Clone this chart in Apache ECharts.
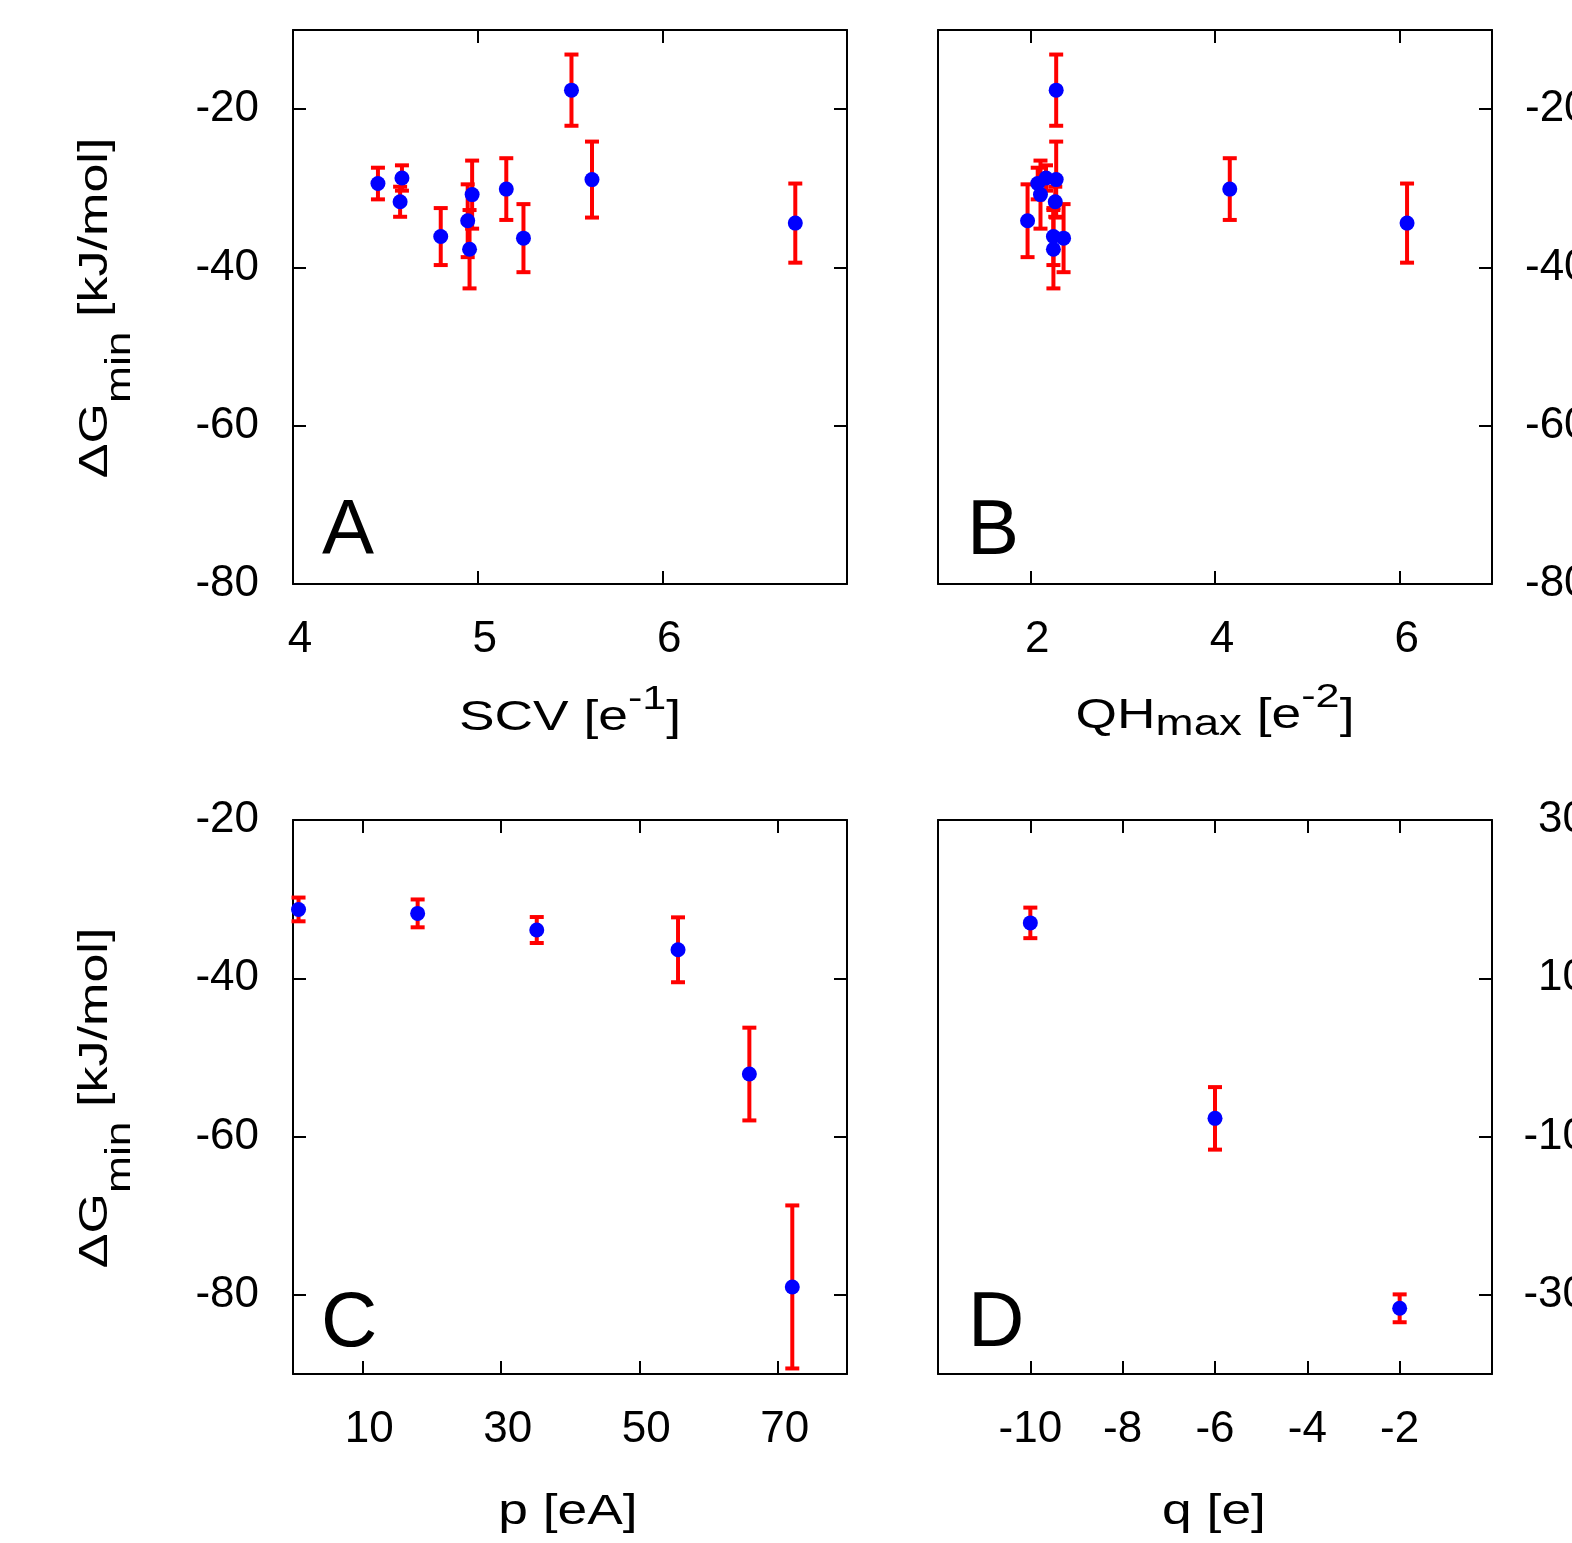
<!DOCTYPE html>
<html>
<head>
<meta charset="utf-8">
<script src="https://cdn.jsdelivr.net/npm/echarts@6/dist/echarts.min.js"></script>
<style>
html,body{margin:0;padding:0;background:#ffffff;}
#chart{width:1572px;height:1543px;}
</style>
</head>
<body>
<div id="chart"></div>
<script>
// ---------- data ----------
// Panels A & B: same 12 compounds, dG_min vs SCV and vs QH_max
const scv      = [4.46, 4.59, 4.58, 4.80, 4.946, 4.956, 4.97, 5.155, 5.248, 5.508, 5.619, 6.72];
const qhMax    = [2.08, 2.17, 2.27, 2.25, 1.97, 2.25, 2.11, 4.16, 2.36, 2.28, 2.28, 6.08];
const dGmin    = [-29.4, -28.7, -31.7, -36.1, -34.1, -37.7, -30.8, -30.1, -36.3, -17.6, -28.9, -34.4];
const dGminErr = [2.0, 1.6, 1.9, 3.6, 4.6, 4.95, 4.3, 3.9, 4.3, 4.5, 4.8, 5.0];
// Panel C: dG_min vs p
const pVals  = [0.8, 18.0, 35.2, 55.6, 65.9, 72.1];
const pDG    = [-31.3, -31.8, -33.9, -36.4, -52.1, -79.0];
const pErr   = [1.5, 1.76, 1.64, 4.1, 5.86, 10.3];
// Panel D: values vs q (right-hand axis)
const qVals  = [-10, -6, -2];
const qY     = [17.0, -7.7, -31.7];
const qErr   = [1.93, 3.95, 1.76];

// tick labels
const ticksScv   = [4, 5, 6];
const ticksQh    = [2, 4, 6];
const ticksP     = [10, 30, 50, 70];
const ticksQ     = [-10, -8, -6, -4, -2];
const ticksDG    = [-80, -60, -40, -20];
const ticksRight = [-30, -10, 10, 30];

// axis titles
const titleA = '{a|SCV [e}{sup|-1}{a|]}';
const titleB = '{a|QH}{sub|max}{a| [e}{sup|-2}{a|]}';
const titleC = '{a|p [eA]}';
const titleD = '{a|q [e]}';
const titleY = '{a|ΔG}{sub|min}{a| [kJ/mol]}';

// ---------- helpers ----------
const FONT = '"Liberation Sans", Arial, Helvetica, sans-serif';
const G = [
  {left: 293, top: 30,  width: 554, height: 554},
  {left: 938, top: 30,  width: 554, height: 554},
  {left: 293, top: 820, width: 554, height: 554},
  {left: 938, top: 820, width: 554, height: 554}
];
const LINE = {color: '#000', width: 2};
const TICK = {color: '#000', width: 2};
const TICKFS = 44;

function xAxisPair(gi, min, max, ticks, shift) {
  const bottom = {
    type: 'value', gridIndex: gi, position: 'bottom', min: min, max: max,
    axisLine: {show: true, onZero: false, lineStyle: LINE},
    axisTick: {show: true, inside: true, length: 13, lineStyle: TICK, customValues: ticks},
    axisLabel: {show: true, customValues: ticks, margin: 34, color: '#000', fontSize: TICKFS, fontFamily: FONT,
                padding: [0, 0, 0, shift]},
    splitLine: {show: false}
  };
  const top = {
    type: 'value', gridIndex: gi, position: 'top', min: min, max: max,
    axisLine: {show: true, onZero: false, lineStyle: LINE},
    axisTick: {show: true, inside: true, length: 13, lineStyle: TICK, customValues: ticks},
    axisLabel: {show: false},
    splitLine: {show: false}
  };
  return [bottom, top];
}

function yAxisPair(gi, lmin, lmax, lticks, leftShow, rmin, rmax, rticks, rightLabels, rAlign, rMargin) {
  const left = {
    type: 'value', gridIndex: gi, position: 'left', min: lmin, max: lmax,
    axisLine: {show: true, onZero: false, lineStyle: LINE},
    axisTick: {show: leftShow, inside: true, length: 13, lineStyle: TICK, customValues: lticks},
    axisLabel: {show: leftShow, customValues: lticks, margin: 34, color: '#000', fontSize: TICKFS, fontFamily: FONT},
    splitLine: {show: false}
  };
  const right = {
    type: 'value', gridIndex: gi, position: 'right', min: rmin, max: rmax,
    axisLine: {show: true, onZero: false, lineStyle: LINE},
    axisTick: {show: true, inside: true, length: 13, lineStyle: TICK, customValues: rticks},
    axisLabel: {show: rightLabels, customValues: rticks, margin: rMargin, align: rAlign,
                color: '#000', fontSize: TICKFS, fontFamily: FONT},
    splitLine: {show: false}
  };
  return [left, right];
}

function errRender(params, api) {
  const x = api.value(0), y = api.value(1), e = api.value(2);
  const p1 = api.coord([x, y + e]);
  const p2 = api.coord([x, y - e]);
  const hw = 7;
  const st = {stroke: '#ff0000', lineWidth: 4};
  return {
    type: 'group',
    children: [
      {type: 'line', shape: {x1: p1[0], y1: p1[1], x2: p2[0], y2: p2[1]}, style: st},
      {type: 'line', shape: {x1: p1[0] - hw, y1: p1[1], x2: p1[0] + hw, y2: p1[1]}, style: st},
      {type: 'line', shape: {x1: p2[0] - hw, y1: p2[1], x2: p2[0] + hw, y2: p2[1]}, style: st}
    ]
  };
}

function panelSeries(xs, ys, es, xi, yi) {
  const errData = xs.map((x, i) => [x, ys[i], es[i]]);
  const ptData = xs.map((x, i) => [x, ys[i]]);
  return [
    {type: 'custom', xAxisIndex: xi, yAxisIndex: yi, renderItem: errRender,
     encode: {x: 0, y: 1}, data: errData, z: 2, silent: true, clip: false},
    {type: 'scatter', xAxisIndex: xi, yAxisIndex: yi, data: ptData, symbol: 'circle',
     symbolSize: 15, itemStyle: {color: '#0000ff', opacity: 1}, z: 3, silent: true}
  ];
}

const xAxes = [].concat(
  xAxisPair(0, 4, 7, ticksScv, 14),
  xAxisPair(1, 1, 7, ticksQh, 14),
  xAxisPair(2, 0, 80, ticksP, 14),
  xAxisPair(3, -12, 0, ticksQ, 0)
);
const yAxes = [].concat(
  yAxisPair(0, -80, -10, ticksDG, true,  -80, -10, ticksDG, false, 'left', 34),
  yAxisPair(1, -80, -10, ticksDG, false, -80, -10, ticksDG, true,  'left', 33),
  yAxisPair(2, -90, -20, ticksDG, true,  -90, -20, ticksDG, false, 'left', 34),
  yAxisPair(3, -90, -20, ticksDG, false, -40, 30, ticksRight, true, 'right', 95)
);

const series = [].concat(
  panelSeries(scv, dGmin, dGminErr, 0, 0),
  panelSeries(qhMax, dGmin, dGminErr, 2, 3),
  panelSeries(pVals, pDG, pErr, 4, 4),
  panelSeries(qVals, qY, qErr, 6, 7)
);

// rich styles: all tokens share one lineHeight; padding shifts sub/sup
function tok(fs, pt, pb) {
  return {fontSize: fs, fontFamily: FONT, lineHeight: 42, verticalAlign: 'middle', padding: [pt, 0, pb, 0], fill: '#000'};
}
const richX = {a: tok(42, 0, 0), sub: tok(36, 18, 0), sup: tok(34, 0, 36)};
const richY = {a: tok(41, 0, 0), sub: tok(35, 48, 0)};
const SX = 1.27;

function title(text, x, y, rich, rot) {
  return {
    type: 'text', x: x, y: y, rotation: rot || 0, scaleX: SX, scaleY: 1, silent: true,
    style: {text: text, rich: rich, fontSize: 42, fontFamily: FONT, fill: '#000', align: 'center', verticalAlign: 'middle'}
  };
}

const letterFont = '78px "Liberation Sans", Arial, sans-serif';
const letters = [
  {t: 'A', x: 322, y: 532},
  {t: 'B', x: 967, y: 532},
  {t: 'C', x: 321, y: 1324},
  {t: 'D', x: 968, y: 1324}
];

const graphics = [
  title(titleA, 570, 718, richX),
  title(titleB, 1215, 716, richX),
  title(titleC, 568, 1512, richX),
  title(titleD, 1214, 1512, richX),
  title(titleY, 96, 308, richY, Math.PI / 2),
  title(titleY, 96, 1098, richY, Math.PI / 2)
].concat(letters.map(l => ({
  type: 'text', x: l.x, y: l.y, silent: true,
  style: {text: l.t, font: letterFont, fill: '#000', align: 'left', verticalAlign: 'middle'}
})));

const chart = echarts.init(document.getElementById('chart'), null, {renderer: 'canvas', width: 1572, height: 1543});
chart.setOption({
  animation: false,
  backgroundColor: '#ffffff',
  grid: G.map(g => Object.assign({containLabel: false, outerBoundsMode: 'none', show: false}, g)),
  xAxis: xAxes,
  yAxis: yAxes,
  series: series,
  graphic: graphics
});
</script>
</body>
</html>
